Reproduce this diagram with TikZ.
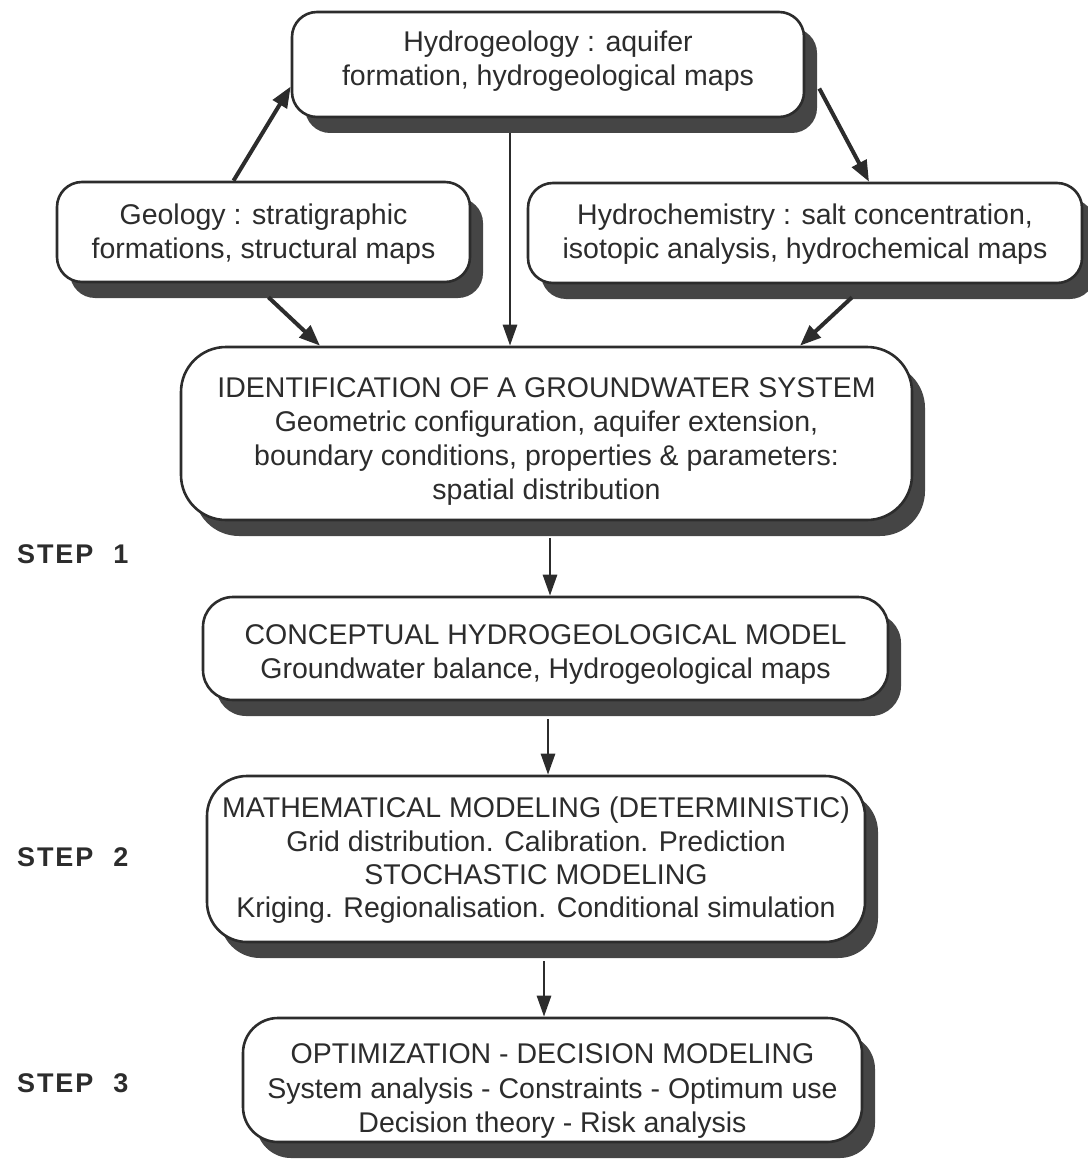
\documentclass[tikz,border=0pt]{standalone}
\usepackage{fontspec}
\setmainfont{Liberation Sans}
\newfontfamily\stepfont[LetterSpace=7]{Liberation Sans}
\usetikzlibrary{arrows.meta,shadows,calc}
\definecolor{ink}{HTML}{2C2C2C}
\definecolor{shade}{HTML}{454545}
\begin{document}
\begin{tikzpicture}[x=1pt,y=-1pt,
  box/.style={draw=ink, line width=2.6pt, fill=white, rounded corners=#1,
    inner sep=0pt,
    drop shadow={shadow xshift=13pt, shadow yshift=-16pt, fill=shade, opacity=1}},
  box/.default=25pt,
  txt/.style={inner sep=0pt, align=center, text=ink,
    font=\fontsize{28.5}{34}\selectfont},
  arr/.style={draw=ink, line width=4pt, -{Triangle[length=21pt,width=16pt]}},
  thinarr/.style={draw=ink, line width=2.8pt, -{Triangle[length=21pt,width=14pt]}},
  steplabel/.style={font=\stepfont\bfseries\fontsize{27}{30}\selectfont, text=ink, anchor=west, inner sep=0pt}]
\useasboundingbox (0,0) rectangle (1087,1169);

% boxes
\node[box, minimum width=512pt, minimum height=105pt] (hydro) at (548,64.5) {};
\node[box, minimum width=413pt, minimum height=100pt] (geo) at (263.5,232) {};
\node[box, minimum width=554pt, minimum height=100pt] (chem) at (805,233) {};
\node[box=45pt, minimum width=731pt, minimum height=173pt] (ident) at (546.5,433.5) {};
\node[box=30pt, minimum width=685pt, minimum height=103pt] (concept) at (545.5,648.5) {};
\node[box=40pt, minimum width=658pt, minimum height=166pt] (math) at (536,859) {};
\node[box=35pt, minimum width=619pt, minimum height=124pt] (opt) at (552.5,1080) {};

% texts
\node[txt] (hydrotxt) at ([yshift=3pt]hydro.center)
  {Hydrogeology : aquifer\\formation, hydrogeological maps};
\node[txt] (geotxt) at ([yshift=-2pt]geo.center)
  {Geology : stratigraphic\\formations, structural maps};
\node[txt] (chemtxt) at ([yshift=-1pt]chem.center)
  {Hydrochemistry : salt concentration,\\isotopic analysis, hydrochemical maps};
\node[txt, font=\fontsize{28.5}{34.3}\selectfont] (identtxt) at ([yshift=-8pt]ident.center)
  {IDENTIFICATION OF A GROUNDWATER SYSTEM\\
   Geometric configuration, aquifer extension,\\
   boundary conditions, properties \& parameters:\\
   spatial distribution};
\node[txt] (concepttxt) at ([yshift=-5.5pt]concept.center)
  {CONCEPTUAL HYDROGEOLOGICAL MODEL\\
   Groundwater balance, Hydrogeological maps};
\node[txt, font=\fontsize{28.5}{33.3}\selectfont] (mathtxt) at ([yshift=-1.5pt]math.center)
  {MATHEMATICAL MODELING (DETERMINISTIC)\\
   Grid distribution. Calibration. Prediction\\
   STOCHASTIC MODELING\\
   Kriging. Regionalisation. Conditional simulation};
\node[txt, font=\fontsize{28.5}{34.5}\selectfont] (opttxt) at ([yshift=-11pt]opt.center)
  {OPTIMIZATION - DECISION MODELING\\
   System analysis - Constraints - Optimum use\\
   Decision theory - Risk analysis};

\node[steplabel] (s1) at (17,554) {STEP\hspace{20pt}1};
\node[steplabel] (s2) at (17,857) {STEP\hspace{20pt}2};
\node[steplabel] (s3) at (17,1083) {STEP\hspace{20pt}3};

% connectors
\draw[arr] ([xshift=-30pt]geo.north) -- ([yshift=-22pt]hydro.west);
\draw[arr] ([xshift=14pt,yshift=-24pt]hydro.east) -- ([xshift=64pt]chem.north);
\draw[thinarr] ([xshift=-38pt,yshift=-15pt]hydro.south) -- ([xshift=-36.5pt]ident.north);
\draw[arr] ([xshift=5pt,yshift=-14pt]geo.south) -- ([xshift=-226.5pt]ident.north);
\draw[arr] ([xshift=47pt,yshift=-13pt]chem.south) -- ([xshift=253.5pt]ident.north);
\draw[thinarr] ([xshift=3.5pt,yshift=-17pt]ident.south) -- ([xshift=4.5pt]concept.north);
\draw[thinarr] ([xshift=2.5pt,yshift=-18pt]concept.south) -- ([xshift=12pt]math.north);
\draw[thinarr] ([xshift=8pt,yshift=-18pt]math.south) -- ([xshift=-8.5pt]opt.north);
\end{tikzpicture}
\end{document}
